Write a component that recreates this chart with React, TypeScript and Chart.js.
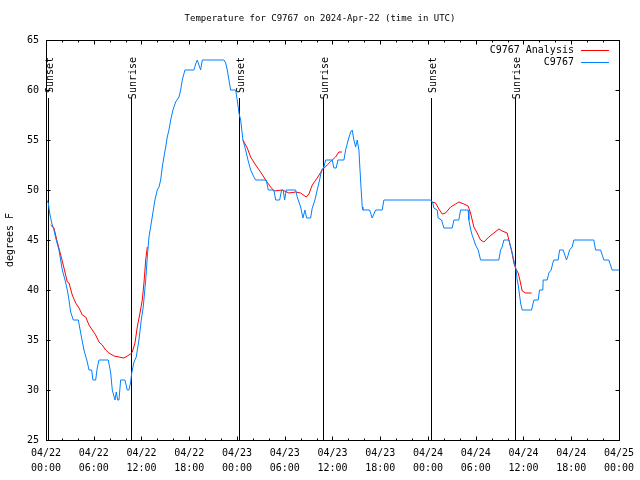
import React, { useEffect, useRef } from "react";
import { Chart, registerables } from "chart.js";

Chart.register(...registerables);

const FONT = "'DejaVu Sans Mono', monospace";
const TITLE = "Temperature for C9767 on 2024-Apr-22 (time in UTC)";
const Y_LABEL = "degrees F";
const SERIES_OBS = "C9767";
const SERIES_ANA = "C9767 Analysis";

// x axis: hours since 2024-04-22 00:00 UTC
const X_MIN = 0;
const X_MAX = 72;
const X_TICK_HOURS = [0, 6, 12, 18, 24, 30, 36, 42, 48, 54, 60, 66, 72];
const X_TICK_DATES = ["04/22", "04/22", "04/22", "04/22", "04/23", "04/23", "04/23", "04/23", "04/24", "04/24", "04/24", "04/24", "04/25"];
const X_TICK_TIMES = ["00:00", "06:00", "12:00", "18:00", "00:00", "06:00", "12:00", "18:00", "00:00", "06:00", "12:00", "18:00", "00:00"];
const Y_MIN = 25;
const Y_MAX = 65;
const Y_STEP = 5;

const SUN_LABELS = ["Sunset", "Sunrise", "Sunset", "Sunrise", "Sunset", "Sunrise"];
const SUN_HOURS = [0.29, 10.72, 24.29, 34.84, 48.41, 58.88];

const obsHours = [
  0, 0.29, 0.46, 0.72, 1.0, 1.22, 1.63, 2.05, 2.39, 2.68, 2.89, 3.1, 3.43, 4.06, 4.36, 4.77, 5.19, 5.4, 5.74, 5.9,
  6.24, 6.44, 6.66, 7.83, 8.13, 8.33, 8.67, 8.83, 9.01, 9.17, 9.38, 9.92, 10.21, 10.43, 10.64, 10.77, 11.06, 11.34, 11.68, 11.97,
  12.22, 12.53, 12.73, 12.94, 13.35, 13.69, 13.98, 14.2, 14.41, 14.61, 14.82, 15.04, 15.24, 15.45, 15.67, 15.95, 16.29, 16.71, 16.92, 17.12,
  17.46, 18.59, 18.81, 19.01, 19.22, 19.43, 19.64, 22.36, 22.58, 22.78, 22.99, 23.2, 23.83, 24.03, 24.25, 24.46, 24.75, 25.09, 25.38, 25.72,
  26.13, 26.34, 27.68, 27.93, 28.64, 28.86, 29.36, 29.61, 29.8, 29.99, 30.19, 31.37, 31.57, 32.0, 32.29, 32.54, 32.75, 33.25, 33.46, 33.79,
  34.08, 34.38, 34.64, 34.92, 35.14, 35.97, 36.18, 36.47, 36.68, 37.44, 37.65, 37.98, 38.28, 38.48, 38.69, 38.91, 39.11, 39.32, 39.41, 39.53,
  39.74, 39.82, 40.67, 40.99, 41.42, 42.25, 42.46, 48.33, 48.62, 48.74, 49.16, 49.28, 49.71, 50.0, 51.04, 51.26, 51.88, 52.1, 53.05, 53.14,
  53.35, 53.55, 53.77, 53.98, 54.31, 54.61, 56.91, 57.12, 57.32, 57.54, 58.17, 58.38, 58.58, 58.88, 59.08, 59.21, 59.34, 59.51, 59.64, 59.84,
  61.02, 61.31, 61.85, 62.02, 62.44, 62.47, 62.98, 63.19, 63.48, 63.69, 63.82, 64.36, 64.54, 64.99, 65.2, 65.41, 65.62, 65.79, 66.12, 66.33,
  68.84, 69.06, 69.69, 70.1, 70.73, 71.14, 72,
];
const obsTemps = [
  49.1, 48.7, 47.7, 46.7, 46, 45.2, 44, 42, 41, 40, 39, 37.8, 37, 37, 35.7, 34, 32.8, 32, 32, 31,
  31, 32.2, 33, 33, 31.7, 30, 29, 29.8, 29, 29, 31, 31, 30, 30, 30.8, 31.7, 32.8, 33.3, 35, 37,
  38.3, 41, 43.3, 45.3, 47.3, 49, 50, 50.3, 51, 52.3, 53.3, 54.3, 55.3, 56, 57, 58, 58.8, 59.3, 60, 61,
  62, 62, 62.6, 63, 62.5, 62, 63, 63, 62.7, 62, 61, 60, 60, 59, 57.7, 57, 55, 54, 53, 52,
  51.3, 51, 51, 50, 50, 49, 49, 50, 50, 49, 50, 50, 49.3, 48.3, 47.2, 48, 47.2, 47.2, 48.2, 49,
  50, 51, 52, 52.3, 53, 53, 52.2, 52.2, 53, 53, 54, 55, 55.8, 56, 55, 54.3, 55, 54, 52.7, 51,
  48.3, 48, 48, 47.2, 48, 48, 49, 49, 48.7, 48.2, 48, 47.2, 47, 46.2, 46.2, 47, 47, 48, 48, 47,
  46.1, 45.5, 45, 44.5, 44, 43, 43, 44, 44.3, 45, 45, 44.3, 43.7, 42.7, 42, 41, 40.5, 39.5, 38.7, 38,
  38, 39, 39, 40, 40, 41, 41, 41.7, 42, 42.7, 43, 43, 44, 44, 43.5, 43, 43.5, 44, 44.3, 45,
  45, 44, 44, 43, 43, 42, 42,
];

const anaHours = [
  0.59, 1.0, 1.42, 1.85, 2.26, 2.68, 2.89, 3.3, 3.73, 4.15, 4.56, 4.99, 5.4, 5.82, 6.24, 6.66, 7.07, 7.5, 7.91, 8.54,
  9.17, 9.8, 10.21, 10.64, 10.84, 11.18, 11.47, 11.81, 12.1, 12.31, 12.53, 12.73, 18,
  24.75, 25.29, 25.72, 26.34, 26.97, 27.6, 28.23, 28.64, 29.69, 30.53, 31.37, 32.0, 32.7, 33.04, 33.46, 34.08, 34.71, 35.34, 35.97,
  36.39, 36.81, 37.19, 42,
  48.53, 48.96, 49.37, 49.79, 50.21, 50.84, 51.47, 51.88, 52.51, 53.05, 53.35, 53.77, 54.18, 54.61, 55.03, 55.65, 56.28, 56.91, 57.32, 57.95,
  58.17, 58.5, 58.79, 59.0, 59.33, 59.55, 59.84, 60.26, 61.02,
];
const anaTemps = [
  46.5, 46.2, 44.8, 43.5, 42.2, 40.8, 40.7, 39.5, 38.7, 38.2, 37.5, 37.3, 36.5, 36, 35.5, 34.8, 34.5, 34, 33.7, 33.4,
  33.3, 33.2, 33.4, 33.6, 33.8, 34.7, 36.3, 37.7, 39, 40.7, 43, 44.3, null,
  55, 54.2, 53.3, 52.5, 51.8, 51, 50.3, 49.9, 50, 49.7, 49.8, 49.7, 49.3, 49.6, 50.5, 51.2, 52, 52.5, 53,
  53.3, 53.8, 53.8, null,
  48.8, 48.7, 48.1, 47.6, 47.7, 48.3, 48.6, 48.8, 48.6, 48.4, 47.7, 46.3, 45.7, 45, 44.8, 45.3, 45.7, 46.1, 45.9, 45.7,
  45, 44, 42.7, 42.2, 41.7, 41, 39.9, 39.7, 39.7,
];

const OBS_COLOR = "rgb(0,128,255)";
const ANA_COLOR = "rgb(255,0,0)";

const decorPlugin = {
  id: "decor",
  beforeDatasetsDraw(chart: any) {
    const ctx = chart.ctx;
    const xs = chart.scales.x;
    const { top, bottom } = chart.chartArea;
    ctx.save();
    ctx.strokeStyle = "#000";
    ctx.lineWidth = 1;
    SUN_HOURS.forEach((h) => {
      const x = Math.round(xs.getPixelForValue(h)) + 0.5;
      ctx.beginPath();
      ctx.moveTo(x, top + 58);
      ctx.lineTo(x, bottom);
      ctx.stroke();
    });
    ctx.restore();
  },
  afterDraw(chart: any) {
    const ctx = chart.ctx;
    const xs = chart.scales.x;
    const ys = chart.scales.y;
    const { left, right, top, bottom } = chart.chartArea;
    ctx.save();
    ctx.strokeStyle = "#000";
    ctx.lineWidth = 1;
    const line = (x1: number, y1: number, x2: number, y2: number) => {
      ctx.beginPath();
      ctx.moveTo(x1, y1);
      ctx.lineTo(x2, y2);
      ctx.stroke();
    };
    // frame
    const L = Math.round(left) + 0.5;
    const R = Math.round(right) + 0.5;
    const T = Math.round(top) + 0.5;
    const B = Math.round(bottom) + 0.5;
    ctx.strokeRect(L, T, R - L, B - T);
    // x ticks (every 2h, major every 6h)
    for (let h = X_MIN; h <= X_MAX; h += 2) {
      const x = Math.round(xs.getPixelForValue(h)) + 0.5;
      const len = h % 6 === 0 ? 4 : 2;
      line(x, B, x, B - len);
      line(x, T, x, T + len);
    }
    // y ticks
    for (let v = Y_MIN; v <= Y_MAX; v += Y_STEP) {
      const y = Math.round(ys.getPixelForValue(v)) + 0.5;
      line(L, y, L + 4, y);
      line(R, y, R - 4, y);
    }
    ctx.fillStyle = "#000";
    // title
    ctx.font = `9px ${FONT}`;
    ctx.textAlign = "center";
    ctx.textBaseline = "middle";
    ctx.fillText(TITLE, 320, 19);
    ctx.font = `10px ${FONT}`;
    // y label
    ctx.save();
    ctx.translate(10, (top + bottom) / 2);
    ctx.rotate(-Math.PI / 2);
    ctx.textAlign = "center";
    ctx.textBaseline = "middle";
    ctx.fillText(Y_LABEL, 0, 0);
    ctx.restore();
    // sun labels
    SUN_HOURS.forEach((h, i) => {
      const x = Math.round(xs.getPixelForValue(h)) + 2;
      ctx.save();
      ctx.translate(x, top + 17);
      ctx.rotate(-Math.PI / 2);
      ctx.textAlign = "right";
      ctx.textBaseline = "middle";
      ctx.fillText(SUN_LABELS[i], 0, 0);
      ctx.restore();
    });
    // legend
    const legend = [
      { label: SERIES_ANA, color: ANA_COLOR },
      { label: SERIES_OBS, color: OBS_COLOR },
    ];
    legend.forEach((item, i) => {
      const y = top + 10 + i * 12;
      ctx.fillStyle = "#000";
      ctx.textAlign = "right";
      ctx.textBaseline = "middle";
      ctx.fillText(item.label, right - 45, y);
      ctx.strokeStyle = item.color;
      ctx.beginPath();
      ctx.moveTo(right - 38, Math.round(y) + 0.5);
      ctx.lineTo(right - 10, Math.round(y) + 0.5);
      ctx.stroke();
    });
    ctx.restore();
  },
};

export default function App() {
  const canvasRef = useRef<HTMLCanvasElement | null>(null);

  useEffect(() => {
    const canvas = canvasRef.current;
    if (!canvas) return;
    const chart = new Chart(canvas, {
      type: "line",
      data: {
        datasets: [
          {
            label: SERIES_OBS,
            data: obsHours.map((h, i) => ({ x: h, y: obsTemps[i] })),
            borderColor: OBS_COLOR,
            backgroundColor: OBS_COLOR,
            borderWidth: 1,
            pointRadius: 0,
            tension: 0,
            spanGaps: false,
          },
          {
            label: SERIES_ANA,
            data: anaHours.map((h, i) => ({ x: h, y: anaTemps[i] })),
            borderColor: ANA_COLOR,
            backgroundColor: ANA_COLOR,
            borderWidth: 1,
            pointRadius: 0,
            tension: 0,
            spanGaps: false,
          },
        ],
      },
      options: {
        responsive: false,
        animation: false,
        devicePixelRatio: 1,
        layout: { padding: { left: 0, top: 40, right: 20, bottom: 0 } },
        plugins: {
          legend: { display: false },
          title: { display: false },
          tooltip: { enabled: false },
        },
        scales: {
          x: {
            type: "linear",
            min: X_MIN,
            max: X_MAX,
            grid: { display: false, drawTicks: false },
            border: { display: false },
            afterBuildTicks: (scale: any) => {
              scale.ticks = X_TICK_HOURS.map((v) => ({ value: v }));
            },
            afterFit: (scale: any) => {
              scale.height = 40;
            },
            ticks: {
              autoSkip: false,
              maxRotation: 0,
              minRotation: 0,
              padding: 6,
              color: "#000",
              font: { family: FONT, size: 10, lineHeight: 1.5 },
              callback: (value: any) => {
                const i = X_TICK_HOURS.indexOf(Number(value));
                return i >= 0 ? [X_TICK_DATES[i], X_TICK_TIMES[i]] : "";
              },
            },
          },
          y: {
            type: "linear",
            min: Y_MIN,
            max: Y_MAX,
            grid: { display: false, drawTicks: false },
            border: { display: false },
            afterFit: (scale: any) => {
              scale.width = 46;
            },
            ticks: {
              stepSize: Y_STEP,
              padding: 7,
              color: "#000",
              font: { family: FONT, size: 10 },
            },
          },
        },
      },
      plugins: [decorPlugin],
    });
    return () => chart.destroy();
  }, []);

  return (
    <div style={{ position: "absolute", left: 0, top: 0, width: 640, height: 480, background: "#fff" }}>
      <canvas ref={canvasRef} width={640} height={480} style={{ width: 640, height: 480, display: "block" }} />
    </div>
  );
}
